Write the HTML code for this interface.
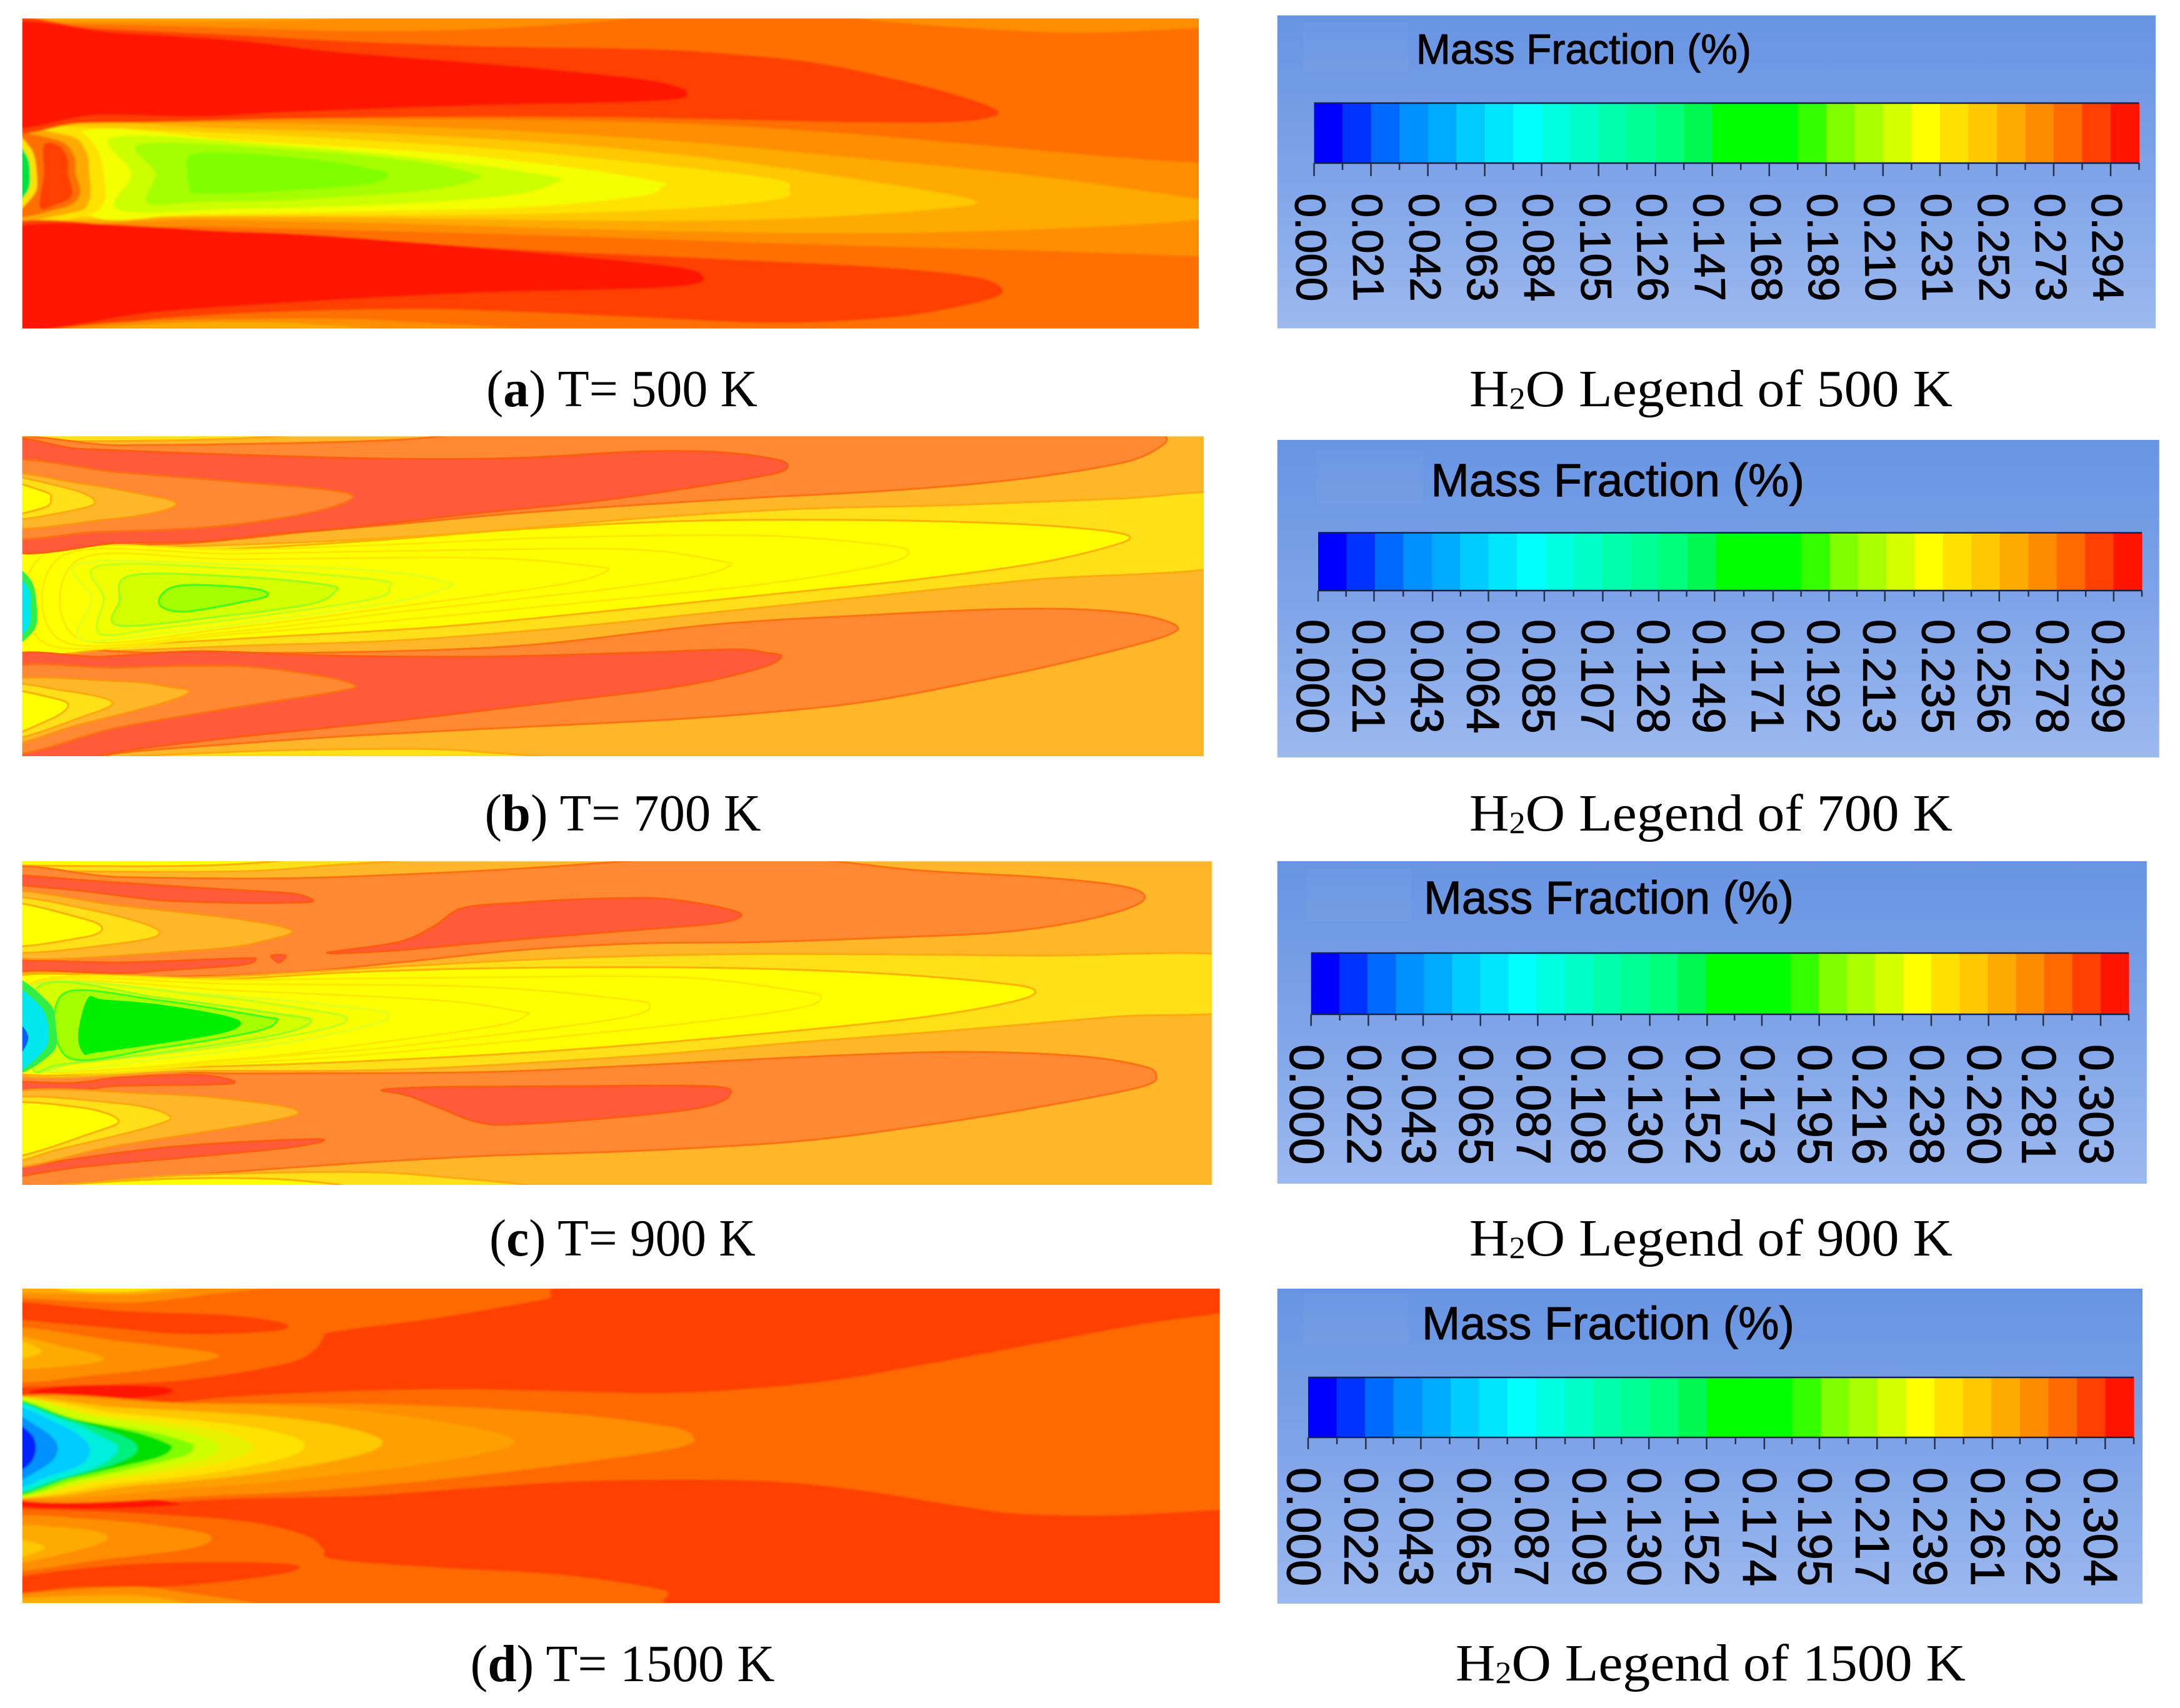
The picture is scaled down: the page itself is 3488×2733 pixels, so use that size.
<!DOCTYPE html>
<html lang="en">
<head>
<meta charset="utf-8">
<title>H2O mass fraction contours</title>
<style>
html,body{margin:0;padding:0;background:#fff;}
body{width:3488px;height:2733px;overflow:hidden;}
svg{display:block;}
.cap{font-family:"Liberation Serif",serif;font-size:84px;fill:#000;}
.ttl{font-family:"Liberation Sans",sans-serif;fill:#000;stroke:#000;stroke-width:1;}
.tick{font-family:"Liberation Sans",sans-serif;fill:#000;stroke:#000;stroke-width:1.2;}
</style>
</head>
<body>
<svg id="chart" xmlns="http://www.w3.org/2000/svg" width="3488" height="2733" viewBox="0 0 3488 2733">
<defs>
<linearGradient id="legendBg" x1="0" y1="0" x2="0" y2="1">
<stop offset="0" stop-color="#6794e2"/><stop offset="0.5" stop-color="#7ea3e8"/><stop offset="1" stop-color="#9cb9ef"/>
</linearGradient>
<filter id="soft" x="-2%" y="-2%" width="104%" height="104%"><feGaussianBlur stdDeviation="1.6"/></filter>
</defs>
<rect width="3488" height="2733" fill="#fff"/>
<g id="panels"></g>
<g id="legends"></g>

<text class="cap" x="778" y="650" textLength="434" lengthAdjust="spacingAndGlyphs">(<tspan font-weight="bold">a</tspan>) T= 500 K</text>
<text class="cap" x="775.5" y="1329" textLength="442" lengthAdjust="spacingAndGlyphs">(<tspan font-weight="bold">b</tspan>) T= 700 K</text>
<text class="cap" x="783" y="2009" textLength="426" lengthAdjust="spacingAndGlyphs">(<tspan font-weight="bold">c</tspan>) T= 900 K</text>
<text class="cap" x="752.5" y="2690" textLength="487" lengthAdjust="spacingAndGlyphs">(<tspan font-weight="bold">d</tspan>) T= 1500 K</text>

<text class="cap" x="2351" y="650" textLength="773" lengthAdjust="spacingAndGlyphs">H<tspan font-size="50" dy="4">2</tspan><tspan dy="-4">O Legend of 500 K</tspan></text>
<text class="cap" x="2351" y="1329" textLength="773" lengthAdjust="spacingAndGlyphs">H<tspan font-size="50" dy="4">2</tspan><tspan dy="-4">O Legend of 700 K</tspan></text>
<text class="cap" x="2351" y="2009" textLength="773" lengthAdjust="spacingAndGlyphs">H<tspan font-size="50" dy="4">2</tspan><tspan dy="-4">O Legend of 900 K</tspan></text>
<text class="cap" x="2329" y="2689" textLength="816" lengthAdjust="spacingAndGlyphs">H<tspan font-size="50" dy="4">2</tspan><tspan dy="-4">O Legend of 1500 K</tspan></text>
</svg>
<script>
// ---- colour levels of the contour legend (29 bands) ----
const colorbarLevels = ['#0000ff','#0033ff','#006aff','#0090ff','#00aaff','#00ccff','#00e6ff','#00ffff','#00ffe0','#00ffc8','#00ffaa','#00ff95','#00ff7a','#00f850','#00ff00','#00ff00','#00ff00','#33ff00','#80ff00','#aaff00','#d4ff00','#ffff00','#ffe000','#ffc800','#ffaa00','#ff8c00','#ff6a00','#ff4000','#ff1400'];

// ---- legend tick labels ----
const ticks500 = ['0.000','0.021','0.042','0.063','0.084','0.105','0.126','0.147','0.168','0.189','0.210','0.231','0.252','0.273','0.294'];
const ticks700 = ['0.000','0.021','0.043','0.064','0.085','0.107','0.128','0.149','0.171','0.192','0.213','0.235','0.256','0.278','0.299'];
const ticks900 = ['0.000','0.022','0.043','0.065','0.087','0.108','0.130','0.152','0.173','0.195','0.216','0.238','0.260','0.281','0.303'];
const ticks1500 = ['0.000','0.022','0.043','0.065','0.087','0.109','0.130','0.152','0.174','0.195','0.217','0.239','0.261','0.282','0.304'];
const legendMax500 = 0.3045;
const legendMax700 = 0.3096;
const legendMax900 = 0.3138;
const legendMax1500 = 0.3149;

// ---- contour outlines: [axial, radial] in panel data units, painted in order ----
const contours500 = [
 {lev:'25',pts:[[0,60],[0,82],[200,95],[350,108],[470,115],[620,105],[790,68],[800,40],[0,40]]},
 {lev:'24',pts:[[0,60],[0,74],[150,78],[320,76],[420,68],[420,50],[0,50]]},
 {lev:'25',pts:[[1080,40],[1080,68],[1200,100],[1350,120],[1504,104],[1560,96],[1560,40]]},
 {lev:'25',pts:[[0,450],[300,440],[600,440],[850,455],[1050,490],[1250,540],[1400,580],[1504,600],[1560,600],[1560,945],[1504,945],[1300,925],[1000,900],[700,870],[450,850],[250,835],[0,820]]},
 {lev:'24',pts:[[0,455],[200,450],[500,465],[800,510],[1100,590],[1300,650],[1504,735],[1560,770],[1504,810],[1350,840],[1100,860],[800,850],[500,825],[250,810],[0,800]]},
 {lev:'23',pts:[[0,470],[300,475],[600,510],[850,570],[1050,650],[1217,735],[1180,770],[1000,805],[800,815],[500,805],[250,795],[0,790]]},
 {lev:'22',pts:[[50,470],[100,470],[350,500],[600,545],[800,600],[970,660],[990,700],[975,735],[850,770],[650,790],[400,795],[100,800],[50,790]]},
 {lev:'21',pts:[[100,490],[300,520],[550,565],[720,620],[825,670],[830,690],[800,725],[650,765],[450,780],[250,790],[110,790]]},
 {lev:'20',pts:[[145,505],[350,535],[550,590],[690,650],[700,670],[640,720],[480,755],[300,770],[150,775],[165,640]]},
 {lev:'19',pts:[[180,530],[380,555],[520,595],[595,640],[598,660],[540,700],[380,735],[250,745],[185,750],[195,640]]},
 {lev:'18',pts:[[240,570],[300,565],[400,590],[470,625],[487,645],[460,680],[350,705],[250,715],[238,690],[235,630]]},
 {lev:'22',pts:[[0,480],[90,480],[120,540],[130,640],[130,750],[100,800],[0,810]]},
 {lev:'24',pts:[[0,495],[85,500],[108,560],[112,640],[112,740],[90,785],[0,795]]},
 {lev:'26',pts:[[0,510],[70,515],[92,570],[95,640],[100,720],[75,770],[0,785]]},
 {lev:'27',pts:[[55,535],[75,540],[85,590],[85,640],[90,720],[70,755],[50,765],[55,640]]},
 {lev:'22',pts:[[10,500],[38,545],[46,640],[42,720],[10,780]]},
 {lev:'13',pts:[[10,510],[33,570],[38,640],[34,710],[10,760]]},
 {lev:'27',pts:[[0,85],[120,105],[300,130],[420,150],[600,170],[800,180],[900,195],[1020,230],[1120,290],[1200,350],[1250,405],[1240,435],[1180,452],[1050,450],[900,440],[750,432],[600,430],[400,435],[200,450],[100,455],[0,470]]},
 {lev:'28',pts:[[0,100],[150,122],[300,150],[400,185],[500,210],[650,245],[800,290],[850,320],[862,345],[850,365],[780,378],[650,385],[500,398],[350,415],[250,430],[120,425],[0,455]]},
 {lev:'27',pts:[[0,840],[200,845],[400,875],[650,920],[900,955],[1100,985],[1220,1020],[1257,1065],[1240,1105],[1150,1160],[1050,1185],[950,1190],[800,1170],[650,1150],[520,1140],[350,1150],[200,1175],[0,1230]]},
 {lev:'25',pts:[[0,1240],[150,1190],[350,1175],[500,1185],[650,1230],[0,1250]]},
 {lev:'24',pts:[[60,1240],[200,1195],[350,1190],[480,1230]]},
 {lev:'28',pts:[[0,850],[300,855],[500,890],[700,940],[850,985],[882,1020],[870,1050],[800,1065],[600,1080],[400,1110],[200,1150],[0,1205]]}
];

const contours700 = [
 {lev:'Y2',pts:[[0,30],[360,30],[250,55],[0,58]]},
 {lev:'O',pts:[[0,70],[150,75],[350,68],[500,55],[610,30],[800,28],[1200,28],[1440,28],[1462,42],[1458,75],[1420,130],[1340,175],[1230,215],[1100,245],[950,268],[800,295],[650,325],[500,365],[380,395],[300,420],[200,440],[0,440]]},
 {lev:'Y2',pts:[[1560,262],[1400,272],[1200,295],[1000,310],[800,345],[600,395],[400,430],[200,450],[100,455],[0,460],[0,850],[100,840],[300,815],[500,795],[700,750],[900,690],[1100,630],[1300,570],[1560,505]]},
 {lev:'O',pts:[[0,860],[200,840],[400,840],[650,815],[900,735],[1100,700],[1250,680],[1350,680],[1430,700],[1475,740],[1465,775],[1400,830],[1300,900],[1200,960],[1100,1015],[1000,1050],[850,1085],[650,1115],[450,1145],[300,1175],[150,1210],[120,1240],[0,1240]]},
 {lev:'Y',pts:[[0,470],[200,470],[450,430],[650,385],[850,355],[1050,350],[1250,362],[1370,385],[1417,412],[1390,450],[1300,510],[1150,570],[950,630],[750,690],[550,745],[350,780],[200,805],[0,830]]},
 {lev:'YL',pts:[[60,470],[300,460],[500,440],[700,415],[950,408],[1100,440],[1140,470],[1100,520],[950,590],[750,650],[500,720],[300,770],[60,810]]},
 {lev:'YL',pts:[[80,480],[300,475],[600,460],[800,460],[900,500],[915,520],[870,560],[750,610],[500,690],[300,760],[80,800]]},
 {lev:'YL',pts:[[100,495],[300,495],[600,490],[740,520],[760,540],[700,590],[500,670],[300,745],[100,790]]},
 {lev:'C1',pts:[[100,510],[300,515],[480,540],[560,580],[560,600],[500,650],[350,715],[200,770],[100,790],[115,640]]},
 {lev:'C2',pts:[[125,520],[300,530],[470,570],[488,600],[470,640],[350,695],[200,750],[125,770],[130,640]]},
 {lev:'C3',pts:[[165,555],[300,560],[410,590],[420,615],[390,660],[280,705],[150,740],[150,650]]},
 {lev:'C4',pts:[[215,600],[250,590],[320,605],[335,630],[300,655],[235,688],[205,675],[200,640]]},
 {lev:'G1',pts:[[10,530],[38,570],[46,670],[42,760],[10,805]]},
 {lev:'CY',pts:[[10,545],[35,600],[38,670],[35,750],[10,785]]},
 {lev:'R',pts:[[0,75],[100,88],[200,100],[350,115],[500,125],[650,122],[800,98],[900,100],[970,125],[988,150],[970,180],[880,225],[750,280],[600,325],[450,375],[350,400],[250,430],[150,435],[0,450]]},
 {lev:'O',pts:[[0,140],[150,175],[300,210],[400,235],[442,260],[420,300],[350,345],[250,380],[120,395],[0,405]]},
 {lev:'A',pts:[[0,185],[100,215],[170,250],[220,285],[200,320],[130,350],[0,375]]},
 {lev:'Y2',pts:[[0,195],[80,230],[118,275],[100,310],[0,345]]},
 {lev:'Y',pts:[[0,210],[55,245],[64,270],[55,305],[0,330]]},
 {lev:'R',pts:[[0,870],[130,855],[250,835],[400,850],[600,855],[800,840],[920,828],[960,840],[980,855],[950,900],[850,965],[700,1020],[500,1090],[300,1150],[150,1205],[100,1240],[0,1240]]},
 {lev:'O',pts:[[0,910],[150,895],[300,890],[400,925],[445,960],[420,985],[300,1040],[150,1115],[0,1210]]},
 {lev:'A',pts:[[0,950],[150,945],[210,965],[237,985],[200,1030],[100,1105],[0,1175]]},
 {lev:'Y2',pts:[[0,965],[80,980],[140,1020],[110,1070],[0,1160]]},
 {lev:'Y',pts:[[0,985],[70,1010],[85,1040],[60,1090],[0,1145]]},
 {lev:'Y2',pts:[[120,1240],[300,1205],[500,1195],[600,1205],[680,1240]]}
];

const contours900 = [
 {lev:'Y2',pts:[[0,30],[490,30],[400,60],[280,80],[0,72]]},
 {lev:'Y',pts:[[0,30],[350,30],[250,58],[0,55]]},
 {lev:'O',pts:[[0,85],[150,100],[350,105],[550,85],[700,60],[850,30],[1000,30],[1150,75],[1300,100],[1400,130],[1435,165],[1420,210],[1350,265],[1250,305],[1100,325],[950,340],[800,345],[650,370],[500,415],[350,455],[150,470],[0,460]]},
 {lev:'O',pts:[[0,830],[300,825],[600,820],[800,795],[1000,765],[1200,745],[1350,760],[1430,795],[1450,830],[1430,875],[1300,950],[1150,1020],[1000,1075],[800,1110],[600,1130],[400,1165],[200,1210],[120,1250],[0,1250]]},
 {lev:'Y2',pts:[[1560,396],[1300,390],[1100,385],[900,385],[700,400],[500,430],[250,470],[0,475],[0,815],[250,815],[500,810],[800,760],[1000,710],[1200,665],[1400,615],[1560,585]]},
 {lev:'Y',pts:[[0,480],[250,480],[450,450],[650,435],[900,435],[1100,455],[1250,490],[1298,518],[1270,560],[1150,620],[950,680],[700,740],[450,780],[250,800],[0,810]]},
 {lev:'YL',pts:[[40,490],[300,480],[600,470],[850,470],[1000,520],[1030,545],[990,590],[800,660],[500,745],[300,785],[40,805]]},
 {lev:'YL',pts:[[40,495],[300,495],[600,505],[780,550],[815,575],[780,620],[600,690],[400,750],[40,800]]},
 {lev:'YL',pts:[[40,500],[300,520],[550,555],[650,595],[660,610],[620,650],[450,720],[300,770],[40,800]]},
 {lev:'C1',pts:[[40,500],[250,530],[440,580],[488,610],[460,650],[350,715],[200,770],[40,800]]},
 {lev:'C2',pts:[[40,500],[250,535],[400,595],[435,625],[400,665],[280,725],[100,785],[40,800]]},
 {lev:'C3',pts:[[50,500],[200,545],[350,605],[390,630],[350,680],[220,740],[80,790],[40,800]]},
 {lev:'C4',pts:[[80,530],[200,555],[330,615],[347,630],[320,670],[200,730],[85,765]]},
 {lev:'G2',pts:[[110,548],[130,552],[200,570],[280,610],[302,640],[280,675],[200,715],[120,748],[105,752],[98,680]]},
 {lev:'G1',pts:[[10,480],[60,560],[70,650],[65,750],[10,815]]},
 {lev:'CY',pts:[[10,515],[45,560],[60,640],[55,740],[10,815]]},
 {lev:'BL',pts:[[10,620],[32,665],[33,720],[10,795]]},
 {lev:'R',pts:[[0,90],[120,115],[250,140],[340,155],[375,165],[392,190],[350,195],[300,195],[200,185],[100,150],[0,120]]},
 {lev:'R',pts:[[0,408],[150,415],[300,400],[320,405],[300,425],[200,445],[150,455],[50,445],[0,450]]},
 {lev:'R',pts:[[340,390],[358,390],[350,415]]},
 {lev:'R',pts:[[410,380],[500,340],[545,280],[580,215],[650,195],[750,180],[830,180],[900,210],[930,240],[900,270],[800,295],[650,330],[500,370]]},
 {lev:'R',pts:[[0,855],[90,860],[150,840],[250,830],[290,862],[150,870],[100,885],[0,890]]},
 {lev:'R',pts:[[480,885],[550,875],[700,872],[890,872],[915,905],[880,950],[780,985],[650,1012],[600,1005],[550,950],[510,905]]},
 {lev:'R',pts:[[0,1185],[200,1100],[395,1067],[370,1095],[250,1130],[100,1170],[0,1215]]},
 {lev:'A',pts:[[0,160],[150,205],[300,255],[365,295],[340,330],[250,370],[0,390]]},
 {lev:'Y2',pts:[[0,180],[120,225],[200,300],[150,345],[0,370]]},
 {lev:'Y',pts:[[0,195],[100,250],[128,290],[100,325],[0,350]]},
 {lev:'A',pts:[[0,905],[200,900],[320,930],[373,962],[340,1000],[150,1090],[0,1165]]},
 {lev:'Y2',pts:[[0,925],[150,935],[212,980],[190,1020],[80,1100],[0,1145]]},
 {lev:'Y',pts:[[0,945],[100,950],[148,995],[120,1040],[0,1135]]},
 {lev:'Y2',pts:[[130,1250],[200,1205],[430,1188],[550,1205],[650,1250]]},
 {lev:'Y',pts:[[50,1250],[200,1215],[350,1215],[420,1250]]}
];

const contours1500 = [
 {lev:'27',pts:[[780,35],[1560,35],[1560,125],[1530,140],[1430,180],[1300,250],[1150,330],[1050,380],[950,410],[820,428],[600,415],[450,420],[300,440],[200,465],[100,465],[0,425],[0,410],[150,395],[250,375],[360,320],[395,270],[405,230],[420,205],[550,155],[680,90]]},
 {lev:'27',pts:[[0,835],[150,830],[300,810],[450,800],[600,770],[750,745],[950,745],[1080,780],[1200,835],[1280,865],[1400,870],[1530,850],[1560,845],[1560,1210],[900,1210],[830,1140],[700,1085],[550,1060],[420,1030],[405,990],[380,940],[300,890],[150,860],[0,845]]},
 {lev:'27',pts:[[0,95],[150,130],[280,145],[340,165],[362,185],[340,205],[240,215],[150,195],[0,150]]},
 {lev:'25',pts:[[0,195],[150,240],[270,285],[240,320],[130,360],[0,380]]},
 {lev:'24',pts:[[0,215],[80,260],[130,300],[100,325],[0,335]]},
 {lev:'23',pts:[[0,220],[48,265],[45,290],[0,310]]},
 {lev:'25',pts:[[0,35],[330,35],[250,75],[170,100],[100,95],[0,75]]},
 {lev:'24',pts:[[0,35],[240,35],[180,70],[100,70],[0,60]]},
 {lev:'22',pts:[[70,40],[210,40],[170,60],[100,60]]},
 {lev:'28',pts:[[40,420],[100,400],[200,405],[215,425],[190,440],[120,455],[50,440]]},
 {lev:'25',pts:[[0,885],[120,885],[230,920],[265,950],[240,990],[130,1030],[0,1065]]},
 {lev:'24',pts:[[0,915],[100,920],[135,950],[100,995],[0,1045]]},
 {lev:'23',pts:[[0,955],[55,980],[40,1010],[0,1035]]},
 {lev:'27',pts:[[0,1105],[150,1050],[300,1040],[370,1050],[365,1075],[300,1105],[200,1130],[100,1130],[0,1155]]},
 {lev:'25',pts:[[0,1165],[150,1130],[220,1145],[320,1205],[0,1205]]},
 {lev:'24',pts:[[0,1175],[170,1160],[230,1205],[0,1205]]},
 {lev:'28',pts:[[20,810],[100,785],[170,805],[225,830],[150,845],[70,845],[20,835]]},
 {lev:'25',pts:[[0,455],[250,465],[500,470],[700,500],[830,545],[868,580],[850,625],[700,690],[500,755],[300,795],[0,800]]},
 {lev:'P1',pts:[[0,460],[200,465],[400,480],[550,530],[643,595],[600,650],[450,715],[250,770],[0,790]]},
 {lev:'23',pts:[[0,462],[150,480],[330,510],[430,550],[480,605],[440,660],[320,720],[180,760],[0,790]]},
 {lev:'22',pts:[[0,465],[150,500],[300,545],[365,585],[382,620],[360,660],[270,715],[150,755],[0,788]]},
 {lev:'P2',pts:[[0,455],[120,505],[250,550],[300,590],[316,625],[295,665],[220,710],[120,750],[0,795]]},
 {lev:'20',pts:[[0,458],[120,515],[220,560],[265,600],[275,625],[260,660],[200,700],[110,745],[0,792]]},
 {lev:'18',pts:[[0,460],[100,525],[190,570],[235,605],[243,625],[230,655],[175,695],[100,740],[0,790]]},
 {lev:'P3',pts:[[0,462],[90,520],[170,570],[210,610],[215,630],[200,660],[150,695],[90,735],[0,788]]},
 {lev:'P5',pts:[[0,468],[85,522],[150,580],[172,625],[155,672],[90,730],[0,782]]},
 {lev:'P4',pts:[[0,470],[80,525],[130,590],[148,630],[125,690],[70,740],[0,780]]},
 {lev:'6',pts:[[0,480],[70,535],[110,610],[105,680],[60,730],[0,770]]},
 {lev:'3',pts:[[0,500],[50,555],[72,620],[58,690],[0,750]]},
 {lev:'1',pts:[[0,520],[35,565],[45,625],[35,690],[0,730]]}
];

// ---- colour keys ----
const saturatedPalette = {'28':'#ff1400','27':'#ff4000','26':'#ff6f00','25':'#ff8e00','24':'#ffaa00','23':'#ffc800','22':'#ffe300','21':'#f4ff00','20':'#ccff00','19':'#a5ff00','18':'#80ff00','13':'#00e040','6':'#00ccff','3':'#0090ff','1':'#0020ff','P1':'#ffa000','P2':'#e6f000','P3':'#00e000','P4':'#00eedd','P5':'#00f080'};
const washedPalette = {R:'#ff5a3a',O:'#ff8833',A:'#ffb628',Y2:'#ffe018',Y:'#ffff00',YL:'#feff00',C1:'#faff00',C2:'#f0ff00',C3:'#d4ff00',C4:'#a5ff00',G1:'#33ee44',G2:'#00ee00',CY:'#00e8ee',BL:'#0060ff'};
const washedStroke = {R:'#ff5c10',O:'#ff7010',A:'#ff9510',Y2:'#ffa810',Y:'#ffb000',YL:'#ffe800',C1:'#e0ff20',C2:'#c0ff20',C3:'#99ff20',C4:'#40ff20'};

const NS = 'http://www.w3.org/2000/svg';
const panelsGroup = document.getElementById('panels');
const legendsGroup = document.getElementById('legends');

function closedSmooth(points, sx, sy){
  const n = points.length;
  const p = points.map(q => [sx(q[0]), sy(q[1])]);
  let d = 'M' + p[0][0].toFixed(1) + ' ' + p[0][1].toFixed(1);
  for (let i = 0; i < n; i++){
    const p0 = p[(i - 1 + n) % n], p1 = p[i], p2 = p[(i + 1) % n], p3 = p[(i + 2) % n];
    const c1x = p1[0] + (p2[0] - p0[0]) / 6, c1y = p1[1] + (p2[1] - p0[1]) / 6;
    const c2x = p2[0] - (p3[0] - p1[0]) / 6, c2y = p2[1] - (p3[1] - p1[1]) / 6;
    d += 'C' + c1x.toFixed(1) + ' ' + c1y.toFixed(1) + ' ' + c2x.toFixed(1) + ' ' + c2y.toFixed(1) + ' ' + p2[0].toFixed(1) + ' ' + p2[1].toFixed(1);
  }
  return d + 'Z';
}

function drawPanel(name, contours, domain, rect, palette, strokes, background, blur){
  const sx = v => rect.x0 + (v - domain.x0) / (domain.x1 - domain.x0) * (rect.x1 - rect.x0);
  const sy = v => rect.y0 + (v - domain.y0) / (domain.y1 - domain.y0) * (rect.y1 - rect.y0);
  const clip = document.createElementNS(NS, 'clipPath');
  clip.setAttribute('id', 'clip-' + name);
  const cr = document.createElementNS(NS, 'rect');
  cr.setAttribute('x', rect.x0);
  cr.setAttribute('y', rect.y0);
  cr.setAttribute('width', rect.x1 - rect.x0);
  cr.setAttribute('height', rect.y1 - rect.y0);
  clip.appendChild(cr);
  panelsGroup.appendChild(clip);
  const g = document.createElementNS(NS, 'g');
  g.setAttribute('clip-path', 'url(#clip-' + name + ')');
  
  
  const inner = document.createElementNS(NS, 'g');
  if (blur) inner.setAttribute('filter', 'url(#soft)');
  const bg = document.createElementNS(NS, 'rect');
  bg.setAttribute('x', rect.x0 - 10);
  bg.setAttribute('y', rect.y0 - 10);
  bg.setAttribute('width', rect.x1 - rect.x0 + 20);
  bg.setAttribute('height', rect.y1 - rect.y0 + 20);
  bg.setAttribute('fill', background);
  inner.appendChild(bg);
  contours.forEach(c => {
    const path = document.createElementNS(NS, 'path');
    
    
    path.setAttribute('d', closedSmooth(c.pts, sx, sy));
    path.setAttribute('fill', palette[c.lev]);
    if (strokes && strokes[c.lev]){
      path.setAttribute('stroke', strokes[c.lev]);
      path.setAttribute('stroke-width', '3');
    }
    inner.appendChild(path);
  });
  g.appendChild(inner);
  panelsGroup.appendChild(g);
}

function drawLegend(name, labels, maxValue, cfg){
  const g = document.createElementNS(NS, 'g');
  
  
  const bg = document.createElementNS(NS, 'rect');
  
  
  bg.setAttribute('x', cfg.L); bg.setAttribute('y', cfg.T);
  bg.setAttribute('width', cfg.R - cfg.L); bg.setAttribute('height', cfg.B - cfg.T);
  bg.setAttribute('fill', 'url(#legendBg)');
  g.appendChild(bg);
  const sw = document.createElementNS(NS, 'rect');
  
  
  sw.setAttribute('x', cfg.pL); sw.setAttribute('y', cfg.pT);
  sw.setAttribute('width', cfg.pR - cfg.pL); sw.setAttribute('height', cfg.pB - cfg.pT);
  sw.setAttribute('fill', '#ffffff'); sw.setAttribute('fill-opacity', '0.035');
  g.appendChild(sw);
  const title = document.createElementNS(NS, 'text');
  
  
  title.setAttribute('class', 'ttl');
  title.setAttribute('x', cfg.tL); title.setAttribute('y', cfg.tY);
  title.setAttribute('font-size', cfg.tF);
  title.setAttribute('textLength', cfg.tR - cfg.tL);
  title.setAttribute('lengthAdjust', 'spacingAndGlyphs');
  title.textContent = 'Mass Fraction (%)';
  g.appendChild(title);
  const w = cfg.cR - cfg.cL;
  const band = w / colorbarLevels.length;
  colorbarLevels.forEach((col, i) => {
    const r = document.createElementNS(NS, 'rect');
    
    
    r.setAttribute('x', (cfg.cL + i * band).toFixed(2));
    r.setAttribute('y', cfg.cT);
    r.setAttribute('width', (band + 0.6).toFixed(2));
    r.setAttribute('height', cfg.cB - cfg.cT);
    r.setAttribute('fill', col);
    g.appendChild(r);
  });
  [cfg.cT, cfg.cB].forEach(y => {
    const l = document.createElementNS(NS, 'line');
    
    
    l.setAttribute('x1', cfg.cL); l.setAttribute('x2', cfg.cR);
    l.setAttribute('y1', y); l.setAttribute('y2', y);
    l.setAttribute('stroke', '#12204a'); l.setAttribute('stroke-width', '2.5');
    g.appendChild(l);
  });
  const axis = v => cfg.cL + (v / maxValue) * w;
  const values = labels.map(Number);
  const addTick = (x, yEnd) => {
    const t = document.createElementNS(NS, 'line');
    
    
    t.setAttribute('x1', x.toFixed(1)); t.setAttribute('x2', x.toFixed(1));
    t.setAttribute('y1', cfg.cB); t.setAttribute('y2', yEnd);
    t.setAttribute('stroke', '#26304a'); t.setAttribute('stroke-width', '2.5');
    g.appendChild(t);
  };
  values.forEach((v, i) => {
    const x = axis(v);
    addTick(x, cfg.majorEnd);
    const next = i < values.length - 1 ? values[i + 1] : maxValue;
    addTick(axis((v + next) / 2 + (i < values.length - 1 ? 0 : (next - v) / 2)), cfg.minorEnd);
    const lab = document.createElementNS(NS, 'text');
    
    
    lab.setAttribute('class', 'tick');
    lab.setAttribute('font-size', cfg.lF);
    lab.setAttribute('transform', 'translate(' + (x + cfg.lOff - 0.358 * cfg.lF).toFixed(1) + ' ' + cfg.lY + ') rotate(' + cfg.lRot + ')');
    lab.textContent = labels[i];
    g.appendChild(lab);
  });
  legendsGroup.appendChild(g);
}

drawPanel('a', contours500, {x0:28,x1:1504,y0:68,y1:1212}, {x0:35.7,x1:1918,y0:29.5,y1:525.6}, saturatedPalette, null, '#ff6f00', true);
drawPanel('b', contours700, {x0:28,x1:1510,y0:42,y1:1222}, {x0:35.7,x1:1926,y0:698.2,y1:1210}, washedPalette, washedStroke, '#ffb628', false);
drawPanel('c', contours900, {x0:28,x1:1520,y0:42,y1:1236}, {x0:35.7,x1:1938.8,y0:1378.2,y1:1896}, washedPalette, washedStroke, '#ffb628', false);
drawPanel('d', contours1500, {x0:28,x1:1530,y0:50,y1:1188}, {x0:35.7,x1:1951.5,y0:2062,y1:2565}, saturatedPalette, null, '#ff6a00', true);

drawLegend('500k', ticks500, legendMax500, {L:2043.7,R:3449,T:24.6,B:525.4,pL:2085,pR:2254,pT:35,pB:116,tL:2265.7,tR:2802,tY:102,tF:68,cL:2102.5,cR:3422.5,cT:165,cB:261,majorEnd:282,minorEnd:272,lF:69,lOff:-5.5,lY:310,lRot:89});
drawLegend('700k', ticks700, legendMax700, {L:2043.7,R:3454.7,T:703.9,B:1212,pL:2106,pR:2277,pT:719,pB:805,tL:2289.4,tR:2887,tY:794,tF:74,cL:2109,cR:3427,cT:852.5,cB:945,majorEnd:962.5,minorEnd:954.7,lF:73,lOff:-8,lY:991,lRot:90});
drawLegend('900k', ticks900, legendMax900, {L:2043.7,R:3434.8,T:1378,B:1894,pL:2090,pR:2258,pT:1390,pB:1474,tL:2278,tR:2870,tY:1462,tF:74,cL:2097.7,cR:3406,cT:1525,cB:1623,majorEnd:1641.6,minorEnd:1633,lF:77,lOff:-6,lY:1671,lRot:90});
drawLegend('1500k', ticks1500, legendMax1500, {L:2043.7,R:3428,T:2062,B:2566,pL:2085,pR:2254,pT:2070,pB:2155,tL:2275,tR:2871,tY:2143,tF:74,cL:2093,cR:3414,cT:2204,cB:2300,majorEnd:2319,minorEnd:2311,lF:76,lOff:-6.5,lY:2348,lRot:90});
</script>
</body>
</html>
